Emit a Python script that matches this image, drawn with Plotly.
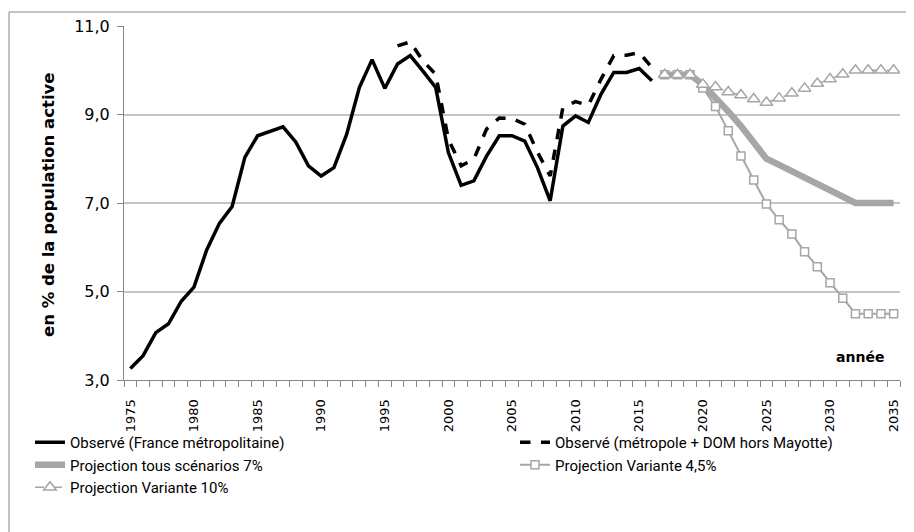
import plotly.graph_objects as go

# observed unemployment rate (% of labour force)
years_obs = list(range(1975, 2017))
obs_metro = [3.26, 3.55, 4.07, 4.27, 4.78, 5.10, 5.94, 6.54, 6.92, 8.03,
             8.52, 8.62, 8.72, 8.38, 7.84, 7.61, 7.80, 8.55, 9.61, 10.24,
             9.59, 10.14, 10.33, 9.98, 9.61, 8.14, 7.40, 7.50, 8.06, 8.52,
             8.52, 8.40, 7.80, 7.05, 8.74, 8.97, 8.82, 9.46, 9.95, 9.95,
             10.04, 9.76]

years_dom = list(range(1996, 2017))
obs_dom = [10.55, 10.64, 10.21, 9.91, 8.44, 7.84, 7.99, 8.67, 8.92, 8.91,
           8.78, 8.15, 7.61, 9.16, 9.29, 9.21, 9.80, 10.33, 10.34, 10.40,
           10.06]

# projections
years_proj = list(range(2017, 2036))
proj_7 = [9.90, 9.90, 9.90, 9.68, 9.40, 9.07, 8.74, 8.37, 8.00, 7.86,
          7.71, 7.57, 7.43, 7.29, 7.14, 7.00, 7.00, 7.00, 7.00]
proj_45 = [9.90, 9.90, 9.90, 9.60, 9.18, 8.63, 8.06, 7.52, 6.98, 6.62,
           6.30, 5.90, 5.56, 5.20, 4.85, 4.50, 4.50, 4.50, 4.50]
proj_10 = [9.90, 9.90, 9.90, 9.68, 9.62, 9.51, 9.44, 9.35, 9.27, 9.37,
           9.48, 9.59, 9.70, 9.80, 9.91, 10.00, 10.00, 10.00, 10.00]

label_years = list(range(1975, 2036, 5))

gray = "#a6a6a6"
axis_gray = "#868686"
grid_gray = "#c4c4c4"
legend_font = dict(family="Roboto, sans-serif", size=15, color="black")

fig = go.Figure()

fig.add_trace(go.Scatter(x=years_obs, y=obs_metro, mode="lines",
                         name="Observé (France métropolitaine)",
                         line=dict(color="black", width=3.5),
                         legend="legend", legendgroup="a"))
fig.add_trace(go.Scatter(x=years_dom, y=obs_dom, mode="lines",
                         name="Observé (métropole + DOM hors Mayotte)",
                         line=dict(color="black", width=3.5, dash="dash"),
                         legend="legend2", legendgroup="b"))
fig.add_trace(go.Scatter(x=years_proj, y=proj_7, mode="lines",
                         name="Projection tous scénarios 7%",
                         line=dict(color=gray, width=6.5),
                         legend="legend", legendgroup="c"))
fig.add_trace(go.Scatter(x=years_proj, y=proj_45, mode="lines+markers",
                         name="Projection Variante 4,5%",
                         line=dict(color=gray, width=2),
                         marker=dict(symbol="square", size=8, color="white",
                                     line=dict(color=gray, width=1.5)),
                         legend="legend2", legendgroup="d"))
fig.add_trace(go.Scatter(x=years_proj, y=proj_10, mode="lines+markers",
                         name="Projection Variante 10%",
                         line=dict(color=gray, width=1.5, dash="dash"),
                         marker=dict(symbol="triangle-up", size=11, color="white",
                                     line=dict(color=gray, width=1.5)),
                         legend="legend", legendgroup="e"))

# the page body adds an 8px offset, so the figure is laid out 8px smaller
OFF = 8
W, H = 914 - OFF, 532 - OFF
L, T = 124 - OFF, 26 - OFF
R, B = 14, 152
pw, ph = W - L - R, H - T - B


def px_x(p):
    # page pixel -> paper fraction
    return (p - OFF - L) / pw


def px_y(p):
    return (H - B - (p - OFF)) / ph


fig.update_layout(
    width=W, height=H,
    margin=dict(l=L, r=R, t=T, b=B, autoexpand=False),
    paper_bgcolor="white", plot_bgcolor="white",
    separators=", ",
    font=dict(family="DejaVu Sans, sans-serif", color="black"),
    showlegend=True,
    legend=dict(x=px_x(30), y=px_y(426), xanchor="left", yanchor="top",
                orientation="v", font=legend_font, tracegroupgap=0,
                bgcolor="rgba(0,0,0,0)", itemwidth=30),
    legend2=dict(x=px_x(515), y=px_y(426), xanchor="left", yanchor="top",
                 orientation="v", font=legend_font, tracegroupgap=0,
                 bgcolor="rgba(0,0,0,0)", itemwidth=30),
    xaxis=dict(range=[1974.5, 2035.5], tickmode="array", tickvals=label_years,
               ticktext=[str(y) for y in label_years], tickangle=-90,
               ticks="outside", ticklen=13, tickcolor="rgba(0,0,0,0)",
               tickfont=dict(family="DejaVu Sans, sans-serif", size=13),
               showgrid=False, showline=True, linecolor=axis_gray, linewidth=1,
               zeroline=False,
               minor=dict(tickmode="linear", tick0=1974.5, dtick=1,
                          ticks="outside", ticklen=6, tickcolor=axis_gray,
                          showgrid=False)),
    yaxis=dict(range=[3, 11], tickmode="linear", tick0=3, dtick=2,
               tickformat=".1f", ticks="outside", ticklen=6,
               tickcolor=axis_gray, tickfont=dict(size=16),
               ticklabelstandoff=4,
               showgrid=True, gridcolor=grid_gray, gridwidth=1.5,
               showline=True, linecolor=axis_gray, linewidth=1,
               zeroline=False),
    annotations=[
        dict(text="<b>en % de la population active</b>", textangle=-90,
             xref="paper", yref="paper", x=px_x(48), y=px_y(205),
             xanchor="center", yanchor="middle",
             showarrow=False, font=dict(family="DejaVu Sans", size=16.5)),
        dict(text="<b>année</b>", xref="paper", yref="paper",
             x=px_x(860), y=px_y(357), xanchor="center", yanchor="middle",
             showarrow=False, font=dict(family="DejaVu Sans", size=14)),
    ],
    shapes=[
        dict(type="rect", xref="paper", yref="paper",
             x0=px_x(9), x1=px_x(930), y0=px_y(12), y1=px_y(560),
             line=dict(color=axis_gray, width=1), layer="below"),
    ],
)

fig.write_html("out.html")
